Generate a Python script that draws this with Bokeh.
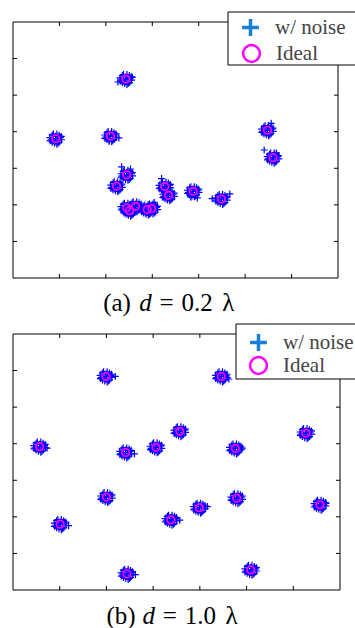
from bokeh.plotting import figure
from bokeh.layouts import column
from bokeh.models import Range1d, Legend, LegendItem, BoxAnnotation, Label
from bokeh.embed import file_html
from bokeh.resources import INLINE

# ---------------- data ----------------
ax_min, ax_max = 0, 7
ticks = [1, 2, 3, 4, 5, 6]

# (a) d = 0.2 lambda : ideal source positions
ideal_x_a = [0.92, 2.10, 2.43, 2.45, 2.23, 2.45, 2.51, 2.64, 2.89, 2.99, 3.27, 3.35, 3.88, 4.49, 5.48, 5.60]
ideal_y_a = [3.81, 3.88, 5.44, 2.82, 2.51, 1.92, 1.84, 1.96, 1.87, 1.90, 2.50, 2.26, 2.37, 2.16, 4.04, 3.29]
# stray noisy estimates (a)
out_x_a = [2.28, 2.26, 2.57, 2.34, 2.53, 3.20, 3.04, 4.29, 4.67, 5.41, 5.56, 5.67, 2.07, 3.83, 3.97]
out_y_a = [3.83, 5.36, 5.49, 3.04, 2.98, 2.72, 2.07, 2.17, 2.30, 3.50, 4.23, 3.42, 3.74, 2.21, 2.19]

# (b) d = 1.0 lambda : ideal source positions
ideal_x_b = [0.57, 1.01, 1.99, 2.00, 2.41, 2.44, 3.06, 3.38, 3.57, 3.99, 4.46, 4.76, 4.79, 5.09, 6.27, 6.57]
ideal_y_b = [3.92, 1.80, 5.84, 2.54, 3.76, 0.44, 3.90, 1.92, 4.34, 2.25, 5.84, 3.87, 2.51, 0.55, 4.29, 2.33]
# stray noisy estimates (b)
out_x_b = [1.19, 0.73, 3.57, 6.70, 2.60, 4.16, 4.91, 4.62, 2.19, 2.62]
out_y_b = [1.76, 3.88, 1.91, 2.37, 3.72, 2.28, 3.88, 5.77, 5.84, 0.42]

# spread of the noisy estimates around each ideal position (read from the blobs)
jit_dx = [0, 0.05, -0.05, 0, 0, 0.1, -0.1, 0.025, -0.025, 0.075, -0.075,
          0.075, -0.075, 0.125, -0.125, 0.05, -0.05, 0.12, -0.12, 0.025]
jit_dy = [0, 0, 0, 0.065, -0.065, 0.03, -0.03, 0.125, -0.125, -0.095, 0.095,
          0.095, -0.095, -0.03, 0.03, -0.125, 0.125, 0.06, -0.06, -0.15]

legend_labels = ["w/ noise", "Ideal"]
caption_a = ["(a)", "d", "=", "0.2", "\u03bb"]
caption_b = ["(b)", "d", "=", "1.0", "\u03bb"]

SERIF = "Liberation Serif"
W = 355


def noisy(ix, iy, ox, oy):
    xs, ys = [], []
    for cx, cy in zip(ix, iy):
        for dx, dy in zip(jit_dx, jit_dy):
            xs.append(cx + dx)
            ys.append(cy + dy)
    return xs + list(ox), ys + list(oy)


def make_panel(ix, iy, ox, oy, H, fr, legend_boxes, box_px, cap_text, cap_px, cap_mid):
    fl, fr_, ft, fb = fr
    sx = (fr_ - fl) / (ax_max - ax_min)
    sy = (fb - ft) / (ax_max - ax_min)

    def X(px):
        return ax_min + (px - fl) / sx

    def Y(py):
        return ax_min + (fb - py) / sy

    p = figure(width=W, height=H,
               x_range=Range1d(X(0), X(W)), y_range=Range1d(Y(H), Y(0)),
               x_axis_location=None, y_axis_location=None,
               toolbar_location=None, output_backend="svg",
               min_border=0, min_border_left=0, min_border_right=0,
               min_border_top=0, min_border_bottom=0,
               background_fill_color="white", border_fill_color="white",
               outline_line_color=None)
    p.grid.visible = False

    # axes box with inward ticks on all four sides
    tlx = 4 / sx
    tly = 4 / sy
    p.quad(left=[ax_min], right=[ax_max], bottom=[ax_min], top=[ax_max],
           fill_color=None, line_color="black", line_width=1)
    n = len(ticks)
    p.segment(x0=ticks, y0=[ax_min] * n, x1=ticks, y1=[ax_min + tly] * n, line_color="black", line_width=1)
    p.segment(x0=ticks, y0=[ax_max] * n, x1=ticks, y1=[ax_max - tly] * n, line_color="black", line_width=1)
    p.segment(x0=[ax_min] * n, y0=ticks, x1=[ax_min + tlx] * n, y1=ticks, line_color="black", line_width=1)
    p.segment(x0=[ax_max] * n, y0=ticks, x1=[ax_max - tlx] * n, y1=ticks, line_color="black", line_width=1)

    nx, ny = noisy(ix, iy, ox, oy)
    p.scatter(nx, ny, marker="cross", size=7, line_color="#0000ff", line_width=1.2)
    p.scatter(ix, iy, marker="circle", size=7.5, fill_color=None,
              line_color="#ff00ff", line_width=1.7)

    # legend samples (kept outside the visible range)
    r_n = p.scatter([-50], [-50], marker="cross", size=16, line_color="#1a7fd6", line_width=3.5)
    r_i = p.scatter([-50], [-50], marker="circle", size=16, fill_color=None,
                    line_color="#ff00ff", line_width=2.5)

    bl, bt, bb = box_px
    bx = BoxAnnotation(left=X(bl), right=X(W + 20), top=Y(bt), bottom=Y(bb),
                       fill_color="white", fill_alpha=1.0,
                       line_color="black", line_width=1, line_alpha=1.0)
    p.add_layout(bx)

    for lab, rend, (lx, ltop) in zip(legend_labels, [r_n, r_i], legend_boxes):
        gh = 42
        leg = Legend(items=[LegendItem(label=lab, renderers=[rend])],
                     location=(lx, H - ltop - gh), glyph_width=42, glyph_height=gh,
                     spacing=0, padding=0, margin=0,
                     border_line_color=None, background_fill_alpha=0,
                     label_text_font=SERIF, label_text_font_size="21px",
                     label_standoff=4)
        p.add_layout(leg)

    for t, cx in zip(cap_text, cap_px):
        p.add_layout(Label(x=X(cx), y=Y(cap_mid), text=t, text_font=SERIF, text_font_size="25px",
                           text_font_style="italic" if t == "d" else "normal",
                           text_align="left", text_baseline="middle", text_color="black"))
    return p


p1 = make_panel(ideal_x_a, ideal_y_a, out_x_a, out_y_a, 318,
                (12.5, 337.5, 21.5, 277.5),
                [(229, 6), (230, 32)], (227.5, 11.5, 64.5),
                caption_a, [102.7, 138.7, 159, 181, 221.7], 302)
p2 = make_panel(ideal_x_b, ideal_y_b, out_x_b, out_y_b, 310,
                (12.5, 339.5, 15.5, 271.5),
                [(237, 3), (237, 26)], (235.5, 5.5, 60.5),
                caption_b, [106, 142, 162.3, 184.3, 225], 296.5)

layout = column(p1, p2)
open("out.html", "w").write(file_html(layout, INLINE))
